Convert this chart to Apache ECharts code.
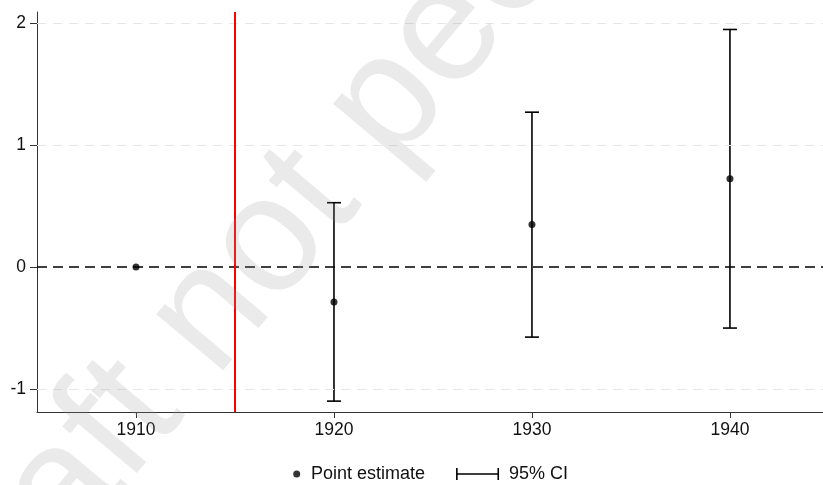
<!DOCTYPE html>
<html>
<head>
<meta charset="utf-8">
<script src="https://cdn.jsdelivr.net/npm/echarts@6/dist/echarts.min.js"></script>
<style>
html,body{margin:0;padding:0;background:#fff;}
#chart{width:823px;height:485px;}
</style>
</head>
<body>
<div id="chart"></div>
<script>
// ---- data ----
const years = [1910, 1920, 1930, 1940];
const estimates = [0, -0.286, 0.349, 0.723];
const ciLow = [null, -1.097, -0.573, -0.499];
const ciHigh = [null, 0.527, 1.268, 1.945];
const xTicks = [1910, 1920, 1930, 1940];
const yTicks = [-1, 0, 1, 2];
const gridValues = [-1, 1, 2];
const zeroValue = 0;
const refYear = 1915;
const legendNames = ['Point estimate', '95% CI'];
const watermarkHead = 'Draf';
const watermarkTail = 't not peer reviewed';

const FONT = '"Liberation Sans", Arial, Helvetica, sans-serif';
const chart = echarts.init(document.getElementById('chart'), null, {renderer: 'canvas'});

const pointIcon = 'path://M0,0M48,12M35.2,6A3.5,3.5,0,1,1,42.2,6A3.5,3.5,0,1,1,35.2,6Z';
const ciIcon = 'path://M48,0M48,12M0,0H1.6V5.2H41.4V0H43V12H41.4V6.8H1.6V12H0Z';

const theta = 50 * Math.PI / 180;
const wmX = 122, wmY = 420;
const wmStyle = {
  font: '165px ' + FONT,
  fill: 'rgba(150,150,150,0.2)',
  textVerticalAlign: 'middle'
};

const option = {
  animation: false,
  backgroundColor: '#ffffff',
  grid: {left: 37, top: 12, right: 0, bottom: 73, containLabel: false},
  xAxis: {
    type: 'value', min: 1905, max: 1944.7,
    axisLine: {show: true, onZero: false, lineStyle: {color: '#333', width: 1}},
    axisTick: {show: true, length: 6, customValues: xTicks, lineStyle: {color: '#333', width: 1}},
    axisLabel: {customValues: xTicks, formatter: v => String(v), fontSize: 17.5, color: '#111', fontFamily: FONT, margin: 9},
    splitLine: {show: false}
  },
  yAxis: {
    type: 'value', min: -1.186, max: 2.088,
    axisLine: {show: true, onZero: false, lineStyle: {color: '#333', width: 1}},
    axisTick: {show: true, length: 7, customValues: yTicks, lineStyle: {color: '#333', width: 1}},
    axisLabel: {customValues: yTicks, formatter: v => String(v), fontSize: 17.5, color: '#111', fontFamily: FONT, margin: 11},
    splitLine: {show: false}
  },
  legend: {
    left: 258, top: 465, padding: 0, itemWidth: 48, itemHeight: 12, itemGap: 31,
    selectedMode: false,
    textStyle: {fontSize: 18, color: '#111', fontFamily: FONT},
    data: [
      {name: legendNames[0], icon: pointIcon, itemStyle: {color: '#000'}},
      {name: legendNames[1], icon: ciIcon, itemStyle: {color: '#000'}}
    ]
  },
  series: [
    {
      type: 'line', data: [], z: 1, silent: true,
      markLine: {
        silent: true, symbol: 'none', label: {show: false},
        lineStyle: {color: '#e6e6e6', width: 1, type: [9, 7]},
        data: gridValues.map(v => ({yAxis: v}))
      }
    },
    {
      type: 'line', data: [], z: 2, silent: true,
      markLine: {
        silent: true, symbol: 'none', label: {show: false},
        lineStyle: {color: '#000', width: 1.5, type: [10, 6]},
        data: [{yAxis: zeroValue}]
      }
    },
    {
      name: legendNames[1], type: 'custom', z: 3,
      itemStyle: {color: '#000'},
      data: years.map((y, i) => [y, ciLow[i], ciHigh[i]]),
      encode: {x: 0, y: [1, 2]},
      renderItem: function (params, api) {
        const x = api.value(0), lo = api.value(1), hi = api.value(2);
        if (lo == null || hi == null || isNaN(lo) || isNaN(hi)) return null;
        const pLo = api.coord([x, lo]), pHi = api.coord([x, hi]);
        const hw = 7;
        const st = {stroke: '#000', lineWidth: 1.6, fill: null};
        return {
          type: 'group',
          children: [
            {type: 'line', shape: {x1: pLo[0], y1: pLo[1], x2: pHi[0], y2: pHi[1]}, style: st},
            {type: 'line', shape: {x1: pLo[0] - hw, y1: pLo[1], x2: pLo[0] + hw, y2: pLo[1]}, style: st},
            {type: 'line', shape: {x1: pHi[0] - hw, y1: pHi[1], x2: pHi[0] + hw, y2: pHi[1]}, style: st}
          ]
        };
      }
    },
    {
      name: legendNames[0], type: 'scatter', z: 4,
      symbol: 'circle', symbolSize: 7,
      itemStyle: {color: '#000'},
      data: years.map((y, i) => [y, estimates[i]])
    },
    {
      type: 'line', data: [], z: 5, silent: true,
      markLine: {
        silent: true, symbol: 'none', label: {show: false},
        lineStyle: {color: '#ff0000', width: 2, type: 'solid'},
        data: [{xAxis: refYear}]
      }
    }
  ],
  graphic: [
    {type: 'text', x: wmX, y: wmY, rotation: theta, silent: true, z: 100,
     style: Object.assign({text: watermarkTail, textAlign: 'left'}, wmStyle)},
    {type: 'text', x: wmX, y: wmY, rotation: theta, silent: true, z: 100,
     style: Object.assign({text: watermarkHead, textAlign: 'right'}, wmStyle)}
  ]
};
chart.setOption(option);
</script>
</body>
</html>
